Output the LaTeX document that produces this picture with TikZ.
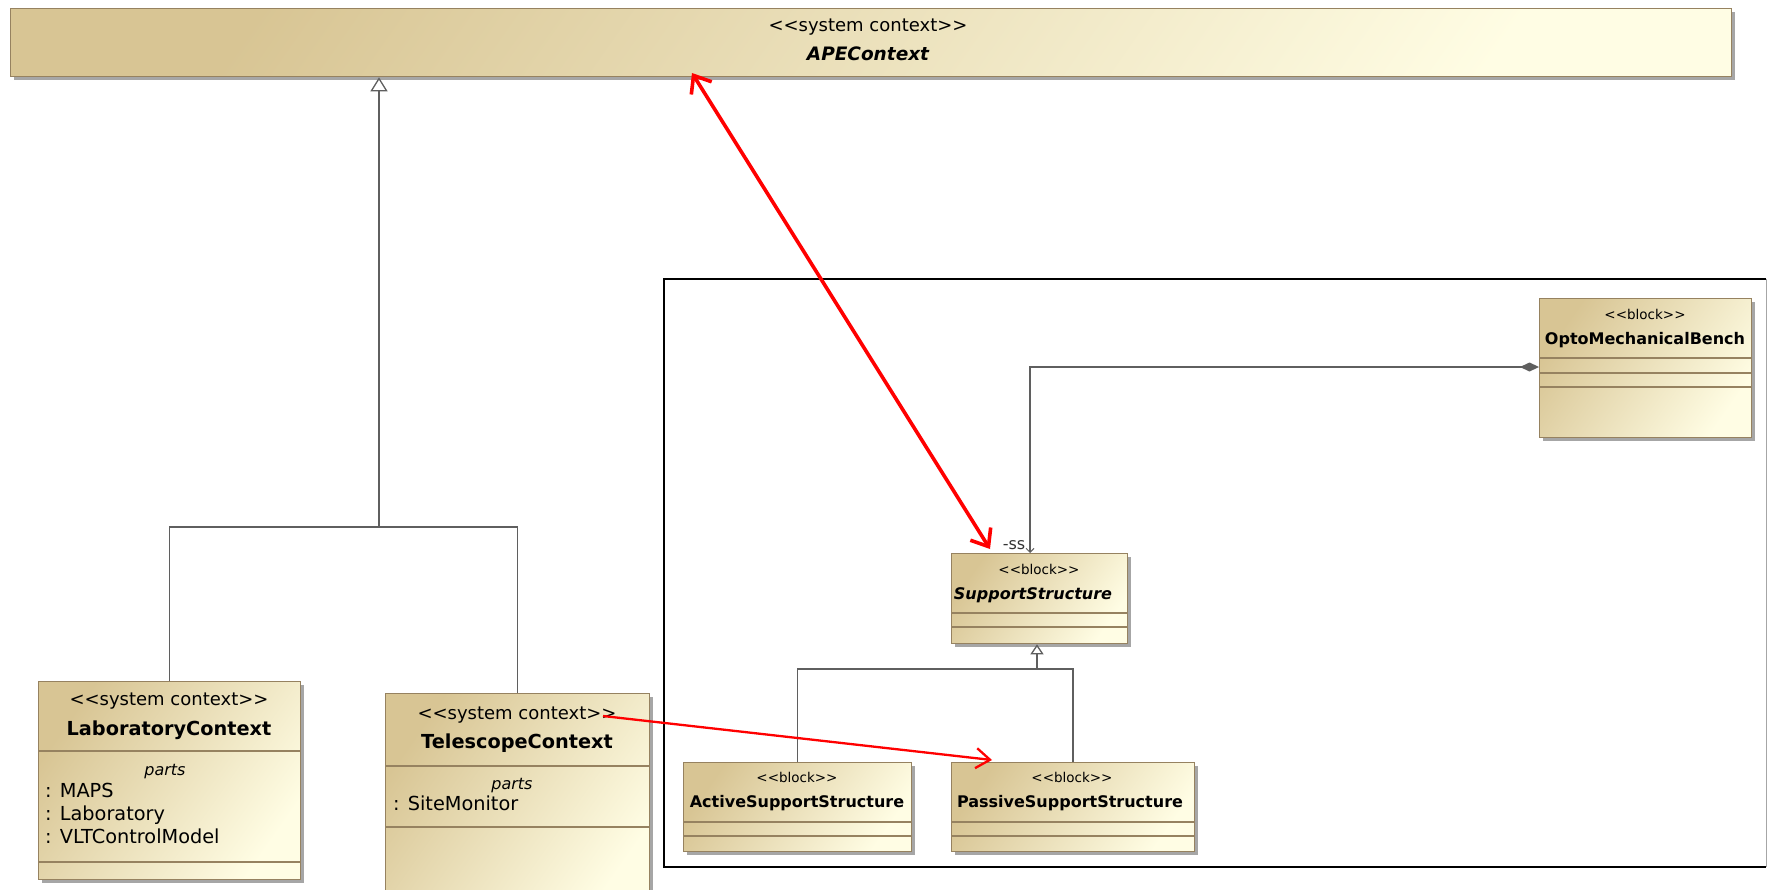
\documentclass[tikz,border=0pt]{standalone}
\usepackage{fontspec}
\setmainfont{DejaVu Sans}
\usetikzlibrary{arrows.meta,calc,shadows}

\definecolor{umldark}{RGB}{216,197,148}
\definecolor{umllight}{RGB}{255,253,228}
\definecolor{umledge}{RGB}{150,130,96}
\definecolor{linkgray}{RGB}{95,95,95}
\definecolor{tracered}{RGB}{255,0,0}

\newcommand{\umlfs}[1]{\fontsize{#1}{#1}\selectfont}
% horizontal compartment separator across a box at height y
\newcommand{\compline}[2]{\draw[umledge, line width=1.2pt] (#1.west |- 0,#2) -- (#1.east |- 0,#2);}

\tikzset{
  umlbox/.style={draw=umledge, line width=1.3pt, left color=umldark, right color=umllight,
    shading angle=55, inner sep=0, anchor=north west,
    drop shadow={shadow xshift=3pt, shadow yshift=-3pt, fill=black, opacity=.35}},
  umltext/.style={anchor=mid, inner sep=0, yshift=-3.5pt},
  stereo/.style={umltext, font=\umlfs{18}},
  bstereo/.style={umltext, font=\umlfs{13.5}},
  ctxname/.style={umltext, font=\umlfs{19.3}\bfseries},
  blkname/.style={umltext, font=\umlfs{16}\bfseries},
  absname/.style={umltext, font=\umlfs{16}\bfseries\itshape},
  partshdr/.style={umltext, font=\umlfs{16}\itshape},
  partitem/.style={umltext, font=\umlfs{19.3}, anchor=mid west},
  link/.style={draw=linkgray, line width=1.4pt},
  genhead/.style={-{Triangle[open, fill=white, length=14pt, width=17pt, line width=1.3pt]}},
  gensmall/.style={-{Triangle[open, fill=white, length=10pt, width=13pt, line width=1.3pt]}},
  composite/.style={{Diamond[length=19pt, width=9pt]}-{Straight Barb[length=4pt, width=8pt, line width=1pt]}},
  tracethick/.style={draw=tracered, line width=3.6pt,
    {Straight Barb[length=15pt, width=24pt]}-{Straight Barb[length=15pt, width=24pt]}},
  tracethin/.style={draw=tracered, line width=2.3pt, -{Straight Barb[length=14pt, width=20pt]}},
}

\begin{document}
\begin{tikzpicture}[x=1pt, y=-1pt]
\clip (0,0) rectangle (1767,889);
\fill[white] (0,0) rectangle (1767,889);

% package frame
\draw[black, line width=2.6pt] (1766,279) -- (664,279) -- (664,867) -- (1766,867);
\draw[gray!70, line width=1pt] (1766,279) -- (1766,867);

% system context blocks
\node[umlbox, minimum width=1721pt, minimum height=68pt] (ape) at (10,8) {};
\node[stereo] (ape-st) at (868,25) {<{}<system context>{}>};
\node[umltext, font=\umlfs{18.5}\bfseries\itshape] (ape-nm) at (868,54) {APEContext};

\node[umlbox, minimum width=262pt, minimum height=198pt] (lab) at (38,681) {};
\compline{lab}{751}
\compline{lab}{862}
\node[stereo] (lab-st) at (169,699) {<{}<system context>{}>};
\node[ctxname] (lab-nm) at (169,729) {LaboratoryContext};
\node[partshdr] (lab-ph) at (165,769) {parts};
\node[partitem] (lab-p1) at (45,791) {: MAPS};
\node[partitem] (lab-p2) at (45,814) {: Laboratory};
\node[partitem] (lab-p3) at (45,837) {: VLTControlModel};

\node[umlbox, minimum width=264pt, minimum height=215pt] (tel) at (385,693) {};
\compline{tel}{766}
\compline{tel}{827}
\node[stereo] (tel-st) at (517,713) {<{}<system context>{}>};
\node[ctxname] (tel-nm) at (517,742) {TelescopeContext};
\node[partshdr] (tel-ph) at (512,783) {parts};
\node[partitem] (tel-p1) at (393,804) {: SiteMonitor};

% blocks inside the package
\node[umlbox, minimum width=212pt, minimum height=139pt] (opto) at (1539,298) {};
\compline{opto}{358}
\compline{opto}{373}
\compline{opto}{387}
\node[bstereo] (opto-st) at (1645,313) {<{}<block>{}>};
\node[blkname] (opto-nm) at (1645,338) {OptoMechanicalBench};

\node[umlbox, minimum width=176pt, minimum height=90pt] (ss) at (951,553) {};
\compline{ss}{613}
\compline{ss}{627}
\node[bstereo] (ss-st) at (1039,568) {<{}<block>{}>};
\node[absname] (ss-nm) at (1033,593) {SupportStructure};

\node[umlbox, minimum width=228pt, minimum height=89pt] (act) at (683,762) {};
\compline{act}{822}
\compline{act}{836}
\node[bstereo] (act-st) at (797,776) {<{}<block>{}>};
\node[blkname] (act-nm) at (797,801) {ActiveSupportStructure};

\node[umlbox, minimum width=243pt, minimum height=89pt] (pas) at (951,762) {};
\compline{pas}{822}
\compline{pas}{836}
\node[bstereo] (pas-st) at (1072,776) {<{}<block>{}>};
\node[blkname] (pas-nm) at (1070,801) {PassiveSupportStructure};

% generalization: contexts -> APEContext
\coordinate (g1) at (379,527);
\draw[link] (lab.north) |- (g1) -| (tel.north);
\draw[link, genhead] (g1) -- (ape.south -| g1);

% generalization: support structures -> SupportStructure
\coordinate (g2) at (1037,669);
\draw[link] (act.north) |- (g2) -| (pas.north);
\draw[link, gensmall] (g2) -- (ss.south -| g2);

% composition: OptoMechanicalBench owns SupportStructure
\coordinate (cbend) at (1030,367);
\draw[link, composite] (opto.west |- cbend) -- (cbend) -- (ss.north -| cbend);
\node[umltext, font=\umlfs{16}, text=black!80] (ss-role) at (1014,543) {-ss};

% trace links
\coordinate (t1a) at (692,73);
\coordinate (t1b) at (990,549);
\draw[tracethick] (t1a) -- (t1b);
\coordinate (t2a) at (603,716);
\coordinate (t2b) at (992,760);
\draw[tracethin] (t2a) -- (t2b);
\end{tikzpicture}
\end{document}
